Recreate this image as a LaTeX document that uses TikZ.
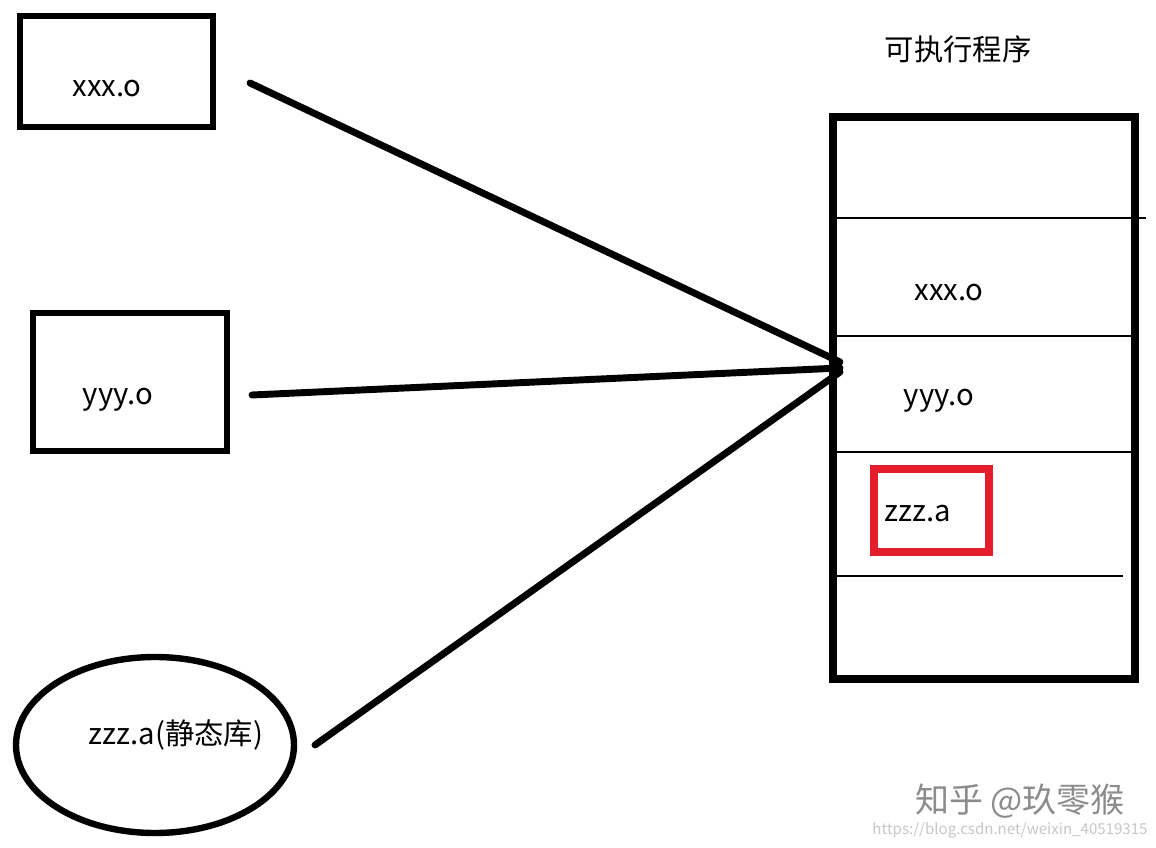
\documentclass[tikz,border=0pt]{standalone}
\usepackage{fontspec}
\setmainfont{Noto Sans CJK SC}
\usetikzlibrary{shapes.geometric}
\definecolor{redbox}{RGB}{228,30,45}
\tikzset{
  thickbox/.style={draw=black, line width=4.8pt},
  lbl/.style={font=\fontsize{22}{25}\selectfont, inner sep=0pt},
  thinrule/.style={draw=black, line width=1.2pt},
  conn/.style={draw=black, line width=5.2pt, line cap=round},
}
\begin{document}
\begin{tikzpicture}[x=0.75pt,y=-0.75pt]
\useasboundingbox (0,0) rectangle (1156,848);
\fill[white] (0,0) rectangle (1156,848);
% left boxes
\draw[thickbox] (20,16) rectangle (213,127);
\node[lbl] (xl) at (107,89) {xxx.o};
\draw[thickbox] (33,313) rectangle (227,451);
\node[lbl] (yl) at (118,400) {yyy.o};
\node[thickbox, ellipse, minimum width=278*0.75pt, minimum height=176*0.75pt, inner sep=0pt] (zell) at (155,745) {};
\node[lbl] (zl) at (176,735) {zzz.a(静态库)};
% executable
\node[lbl] (title) at (958,49) {可执行程序};
\draw[line width=6pt] (833,117) rectangle (1135,679);
\draw[thinrule] (833,218) -- (1146,218);
\draw[thinrule] (833,336) -- (1135,336);
\draw[thinrule] (833,452) -- (1135,452);
\draw[thinrule] (833,576) -- (1123,576);
\node[lbl] (xr) at (949,293) {xxx.o};
\node[lbl] (yr) at (939,401) {yyy.o};
\draw[draw=redbox, line width=5.5pt] (874,469) rectangle (989,552);
\node[lbl] (zr) at (918,514) {zzz.a};
% connectors
\coordinate (p) at (840,362);
\coordinate (a1) at (250,83);
\coordinate (a2) at (252,395);
\coordinate (a3) at (315,745);
\draw[conn] (a1) -- (p);
\draw[conn] (a2) -- (840,368);
\draw[conn] (a3) -- (840,372);
% watermark
\node[font=\fontsize{25.5}{28}\selectfont, text=black!45, inner sep=0pt] (wm) at (1020,801) {知乎 @玖零猴};
\node[font=\fontsize{11.3}{13}\selectfont, text=black!22, inner sep=0pt] (url) at (1010,830) {https://blog.csdn.net/weixin\_40519315};
\end{tikzpicture}
\end{document}
